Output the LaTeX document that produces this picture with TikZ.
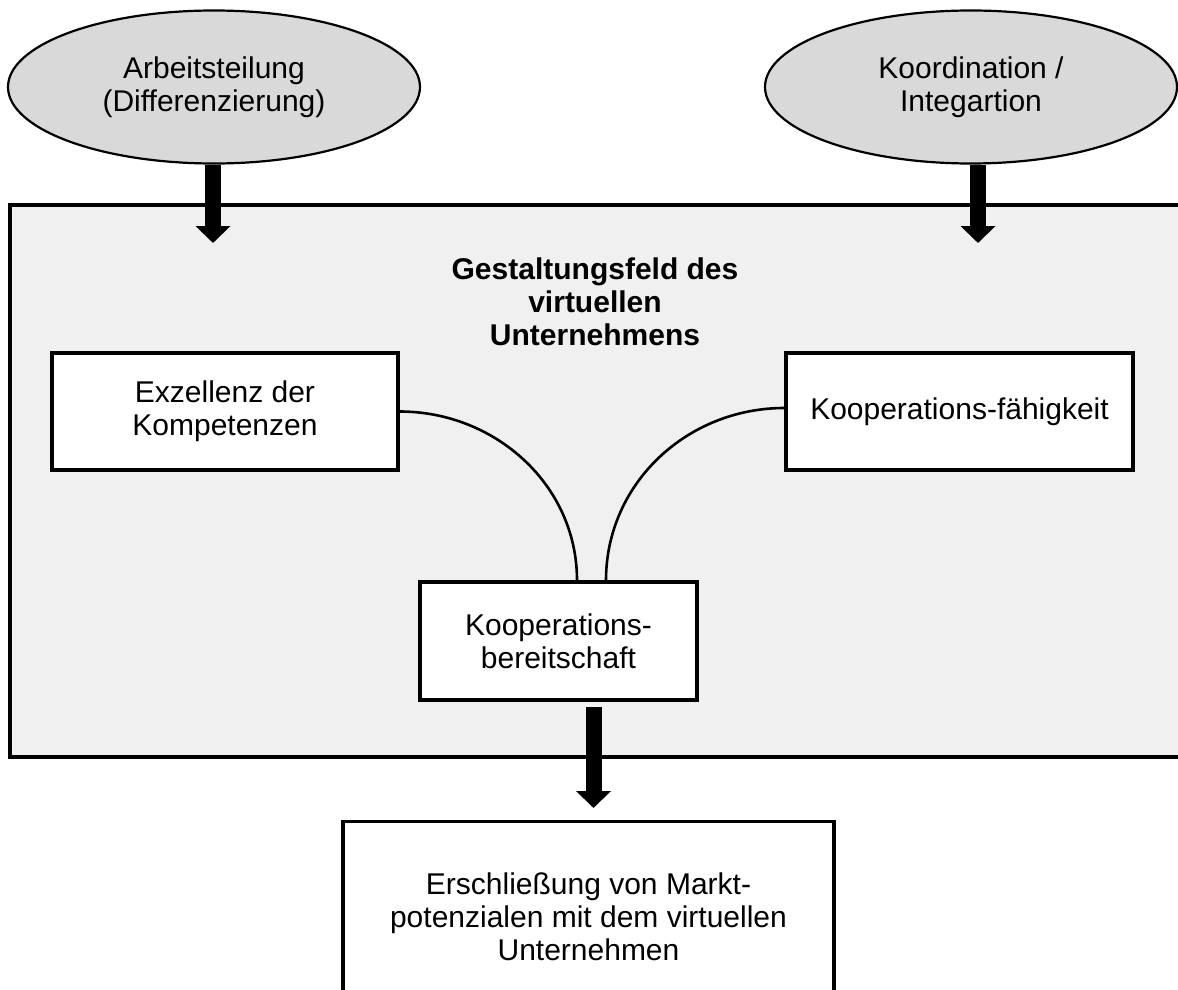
\documentclass[tikz,border=0pt]{standalone}
\usepackage{fontspec}
\setmainfont{Liberation Sans}
\usetikzlibrary{shapes.geometric,arrows.meta}
\definecolor{ovalgray}{HTML}{D9D9D9}
\definecolor{fieldgray}{HTML}{F0F0F0}

\begin{document}
\begin{tikzpicture}[x=0.5pt,y=-0.5pt,line join=miter,
  every node/.style={font=\fontsize{15}{16.5}\selectfont,align=center},
  oval/.style={ellipse,draw,line width=1.1pt,fill=ovalgray,minimum width=206pt,minimum height=76.5pt},
  kasten/.style={draw,line width=1.6pt,fill=white,minimum height=58.5pt},
  bigarrow/.style={line width=8pt,-{Triangle[width=17pt,length=8.5pt]}},
  link/.style={line width=1.3pt}]
  \clip (0,0) rectangle (1178,990);
  % field of the virtual enterprise
  \node[draw,line width=1.8pt,fill=fieldgray,minimum width=590pt,minimum height=276pt] (feld) at (600,481) {};
  \node[font=\fontsize{15}{16.5}\selectfont\bfseries] (titel) at (595,302) {Gestaltungsfeld des\\virtuellen\\Unternehmens};
  \node[oval] (arbeit) at (214,87) {Arbeitsteilung\\(Differenzierung)};
  \node[oval] (koord) at (971,87) {Koordination /\\Integartion};
  \coordinate (inL) at (213,243);
  \coordinate (inR) at (978,243);
  \draw[bigarrow] (arbeit.south -| inL) -- (inL);
  \draw[bigarrow] (koord.south -| inR) -- (inR);
  \node[kasten,minimum width=173pt] (exz) at (225,411.5) {Exzellenz der\\Kompetenzen};
  \node[kasten,minimum width=173.5pt] (koop) at (959.5,411.5) {Kooperations-fähigkeit};
  \node[kasten,minimum width=138.5pt,minimum height=59pt] (bereit) at (558.5,641) {Kooperations-\\bereitschaft};
  \draw[link] (exz.east) to[out=0,in=90] ([xshift=9.25pt]bereit.north);
  \draw[link] ([yshift=1.75pt]koop.west) to[out=180,in=90] ([xshift=23.75pt]bereit.north);
  % result
  \node[kasten,anchor=north,minimum width=245.5pt,minimum height=95pt] (ziel) at (588.5,820) {Erschließung von Markt-\\potenzialen mit dem virtuellen\\Unternehmen};
  \draw[bigarrow,shorten <=2.5pt,shorten >=6pt] ([xshift=2.5pt]bereit.south -| ziel.north) -- ([xshift=2.5pt]ziel.north);
\end{tikzpicture}
\end{document}
